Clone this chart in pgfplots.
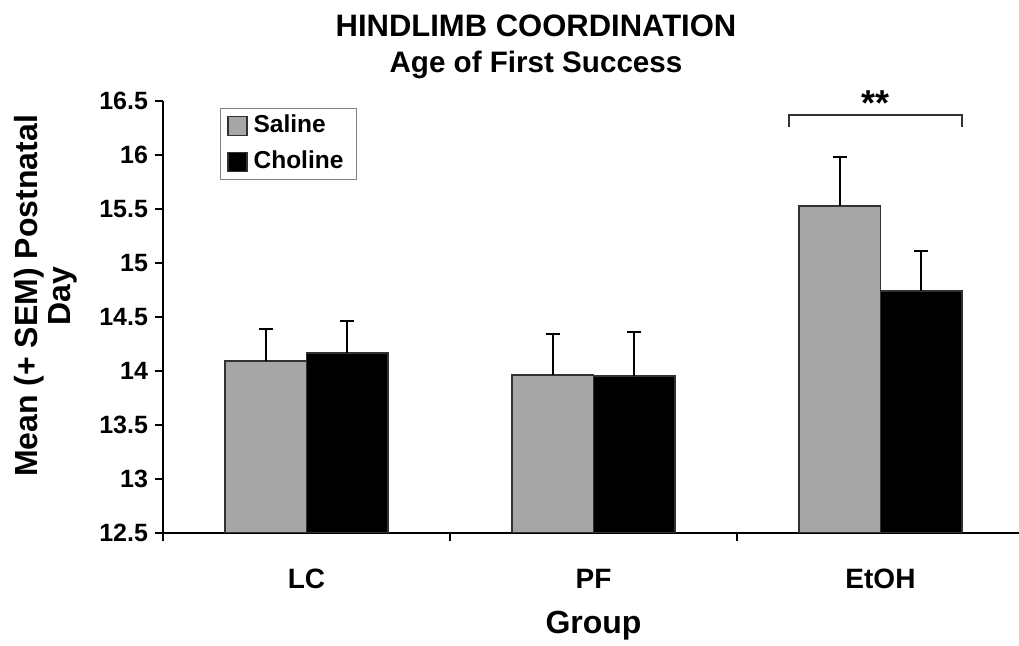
\documentclass[border=0pt]{standalone}
\usepackage{pgfplots}
\usepackage{pgfplotstable}
\pgfplotsset{compat=1.18}
\usepackage{fontspec}
\setmainfont{Liberation Sans}
\definecolor{salinegray}{RGB}{166,166,166}
\definecolor{edgegray}{RGB}{50,50,50}

\pgfplotstableread{
x y err
0 14.09 0.30
1 13.96 0.38
2 15.53 0.45
}\saline
\pgfplotstableread{
x y err
0 14.17 0.29
1 13.95 0.41
2 14.74 0.37
}\choline

\pgfplotsset{
  sqlegend/.style={legend image code/.code={\draw[##1,line width=0.6pt] (0pt,-4.75pt) rectangle (9.5pt,4.75pt);}},
}

\begin{document}
\begin{tikzpicture}
\begin{axis}[
  at={(0,0)}, anchor=south west,
  scale only axis,
  width=430.5pt, height=216pt,
  xmin=-0.5, xmax=2.5,
  ymin=12.5, ymax=16.5,
  axis x line*=bottom, axis y line*=left,
  xtick pos=bottom, ytick pos=left,
  axis line style={-, line width=1pt, black},
  ybar=0pt, bar width=40.75pt,
  xtick={-0.5,0.5,1.5,2.5},
  xticklabels={},
  extra x ticks={0,1,2},
  extra x tick labels={LC,PF,EtOH},
  extra x tick style={xtick align=center, major tick length=0.01pt,
    xticklabel style={font=\fontsize{14}{16}\selectfont\bfseries, yshift=-14.5pt}},
  ytick={12.5,13,13.5,14,14.5,15,15.5,16,16.5},
  yticklabels={12.5,13,13.5,14,14.5,15,15.5,16,16.5},
  tick align=outside,
  major tick length=4pt,
  every tick/.style={black, line width=1pt},
  /pgf/number format/assume math mode=true,
  yticklabel style={font=\fontsize{12.5}{14}\selectfont\bfseries, anchor=east},
  xlabel={Group},
  xlabel style={font=\fontsize{16}{18}\selectfont\bfseries, at={(axis description cs:0.5,-0.2338)}, anchor=base},
  ylabel={Mean (+ SEM) Postnatal\\Day},
  ylabel style={font=\fontsize{16}{16.5}\selectfont\bfseries, align=center, at={(axis description cs:-0.136,0.5486)}, anchor=center},
  legend style={at={(axis description cs:0.066,0.984)}, anchor=north west,
    draw=gray, line width=0.6pt, font=\fontsize{12.25}{14}\selectfont\bfseries,
    legend cell align=left, inner xsep=3.5pt, inner ysep=1.5pt, row sep=3.5pt,
    nodes={inner xsep=3pt, inner ysep=1.5pt, text height=9pt, text depth=2.5pt}},
  error bars/error bar style={line width=1pt, black},
  error bars/error mark options={rotate=90, mark size=3.5pt, line width=1pt, black},
]
\addplot[fill=salinegray, draw=edgegray, line width=0.9pt, sqlegend,
  error bars/.cd, y dir=plus, y explicit]
  table[x=x, y=y, y error=err]{\saline};
\addlegendentry{Saline}
\addplot[fill=black, draw=edgegray, line width=0.9pt, sqlegend,
  error bars/.cd, y dir=plus, y explicit]
  table[x=x, y=y, y error=err]{\choline};
\addlegendentry{Choline}
\coordinate (b1) at (axis cs:1.681,16.26);
\coordinate (b2) at (axis cs:1.681,16.37);
\coordinate (b3) at (axis cs:2.284,16.37);
\coordinate (b4) at (axis cs:2.284,16.26);
\coordinate (star) at (axis cs:1.981,16.37);
\coordinate (t1) at (axis description cs:0.4332,1.15);
\coordinate (t2) at (axis description cs:0.4332,1.066);
\end{axis}
\foreach \k in {0,...,8} \draw[line width=1pt, black] (0pt,\k*27pt) -- (-4pt,\k*27pt);
\draw[line width=1pt, edgegray] (b1) -- (b2) -- (b3) -- (b4);
\node[anchor=base, font=\fontsize{18}{20}\selectfont\bfseries, inner sep=0pt] at (star) {**};
\node[anchor=base, font=\fontsize{15.5}{17}\selectfont\bfseries, inner sep=0pt] at (t1) {HINDLIMB COORDINATION};
\node[anchor=base, font=\fontsize{14.8}{17}\selectfont\bfseries, inner sep=0pt] at (t2) {Age of First Success};
\pgfresetboundingbox
\path[use as bounding box] (-81.5pt,-56.5pt) rectangle (428pt,266.5pt);
\end{tikzpicture}
\end{document}
